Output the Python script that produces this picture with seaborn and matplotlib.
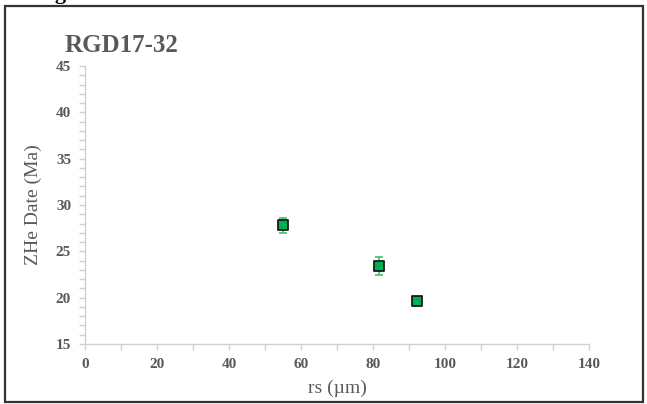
import matplotlib
matplotlib.use("Agg")
import matplotlib.pyplot as plt
from matplotlib.patches import Rectangle
from matplotlib.ticker import MultipleLocator
import seaborn as sns
import pandas as pd

# Grain radius (µm), ZHe date (Ma) and 1-sigma uncertainty
rs_um = [54.9, 81.6, 92.3]
zhe_date_ma = [27.8, 23.4, 19.6]
zhe_err_ma = [0.8, 0.95, 0.3]
sample_name = "RGD17-32"

df = pd.DataFrame({"rs": rs_um, "date": zhe_date_ma, "err": zhe_err_ma})

sns.set_theme(style="white")
plt.rcParams["font.family"] = ["Liberation Serif", "DejaVu Serif"]

grey = "#595959"
axis_grey = "#d0d0d0"
green = "#00b050"

fig = plt.figure(figsize=(6.47, 4.04), dpi=100)
ax = fig.add_axes([85 / 647, 1 - 344 / 404, (589 - 85) / 647, (344 - 66) / 404])

ax.errorbar(df["rs"], df["date"], yerr=df["err"], fmt="none",
            ecolor="#3cc46e", elinewidth=1.2, capsize=3, capthick=1.2, zorder=2)
sns.scatterplot(data=df, x="rs", y="date", marker="s", s=60, color=green,
                edgecolor="#1a1a1a", linewidth=1.3, ax=ax, zorder=3, legend=False)

ax.set_xlim(0, 140)
ax.set_ylim(15, 45)
ax.xaxis.set_major_locator(MultipleLocator(20))
ax.xaxis.set_minor_locator(MultipleLocator(10))
ax.yaxis.set_major_locator(MultipleLocator(5))
ax.yaxis.set_minor_locator(MultipleLocator(1))

for side in ("top", "right"):
    ax.spines[side].set_visible(False)
for side in ("left", "bottom"):
    ax.spines[side].set_color(axis_grey)
    ax.spines[side].set_linewidth(1.0)

ax.tick_params(which="both", direction="out", color=axis_grey, width=1.0,
               length=4, labelcolor=grey, labelsize=11)
ax.tick_params(axis="x", which="both", bottom=True, pad=6)
ax.tick_params(axis="y", which="both", left=True, pad=6)
for lab in ax.get_xticklabels() + ax.get_yticklabels():
    lab.set_fontweight("bold")

ax.set_xlabel("rs (µm)", color=grey, fontsize=14, labelpad=6)
ax.set_ylabel("ZHe Date (Ma)", color=grey, fontsize=14, labelpad=10)

fig.text(65 / 647, 1 - 52 / 404, sample_name, color=grey, fontsize=18,
         fontweight="bold", ha="left", va="baseline")

# Caption heading partly cut off at the top edge
fig.text(36 / 647, 1 + 1 / 404, "Fig", color="black", fontsize=16,
         fontweight="bold", ha="left", va="baseline")

# Outer frame
fig.patches.append(Rectangle((5 / 647, 1 - 402 / 404), 638 / 647, 396 / 404,
                             transform=fig.transFigure, fill=False,
                             edgecolor="#333333", linewidth=1.6))

fig.savefig("out.png", dpi=100)
